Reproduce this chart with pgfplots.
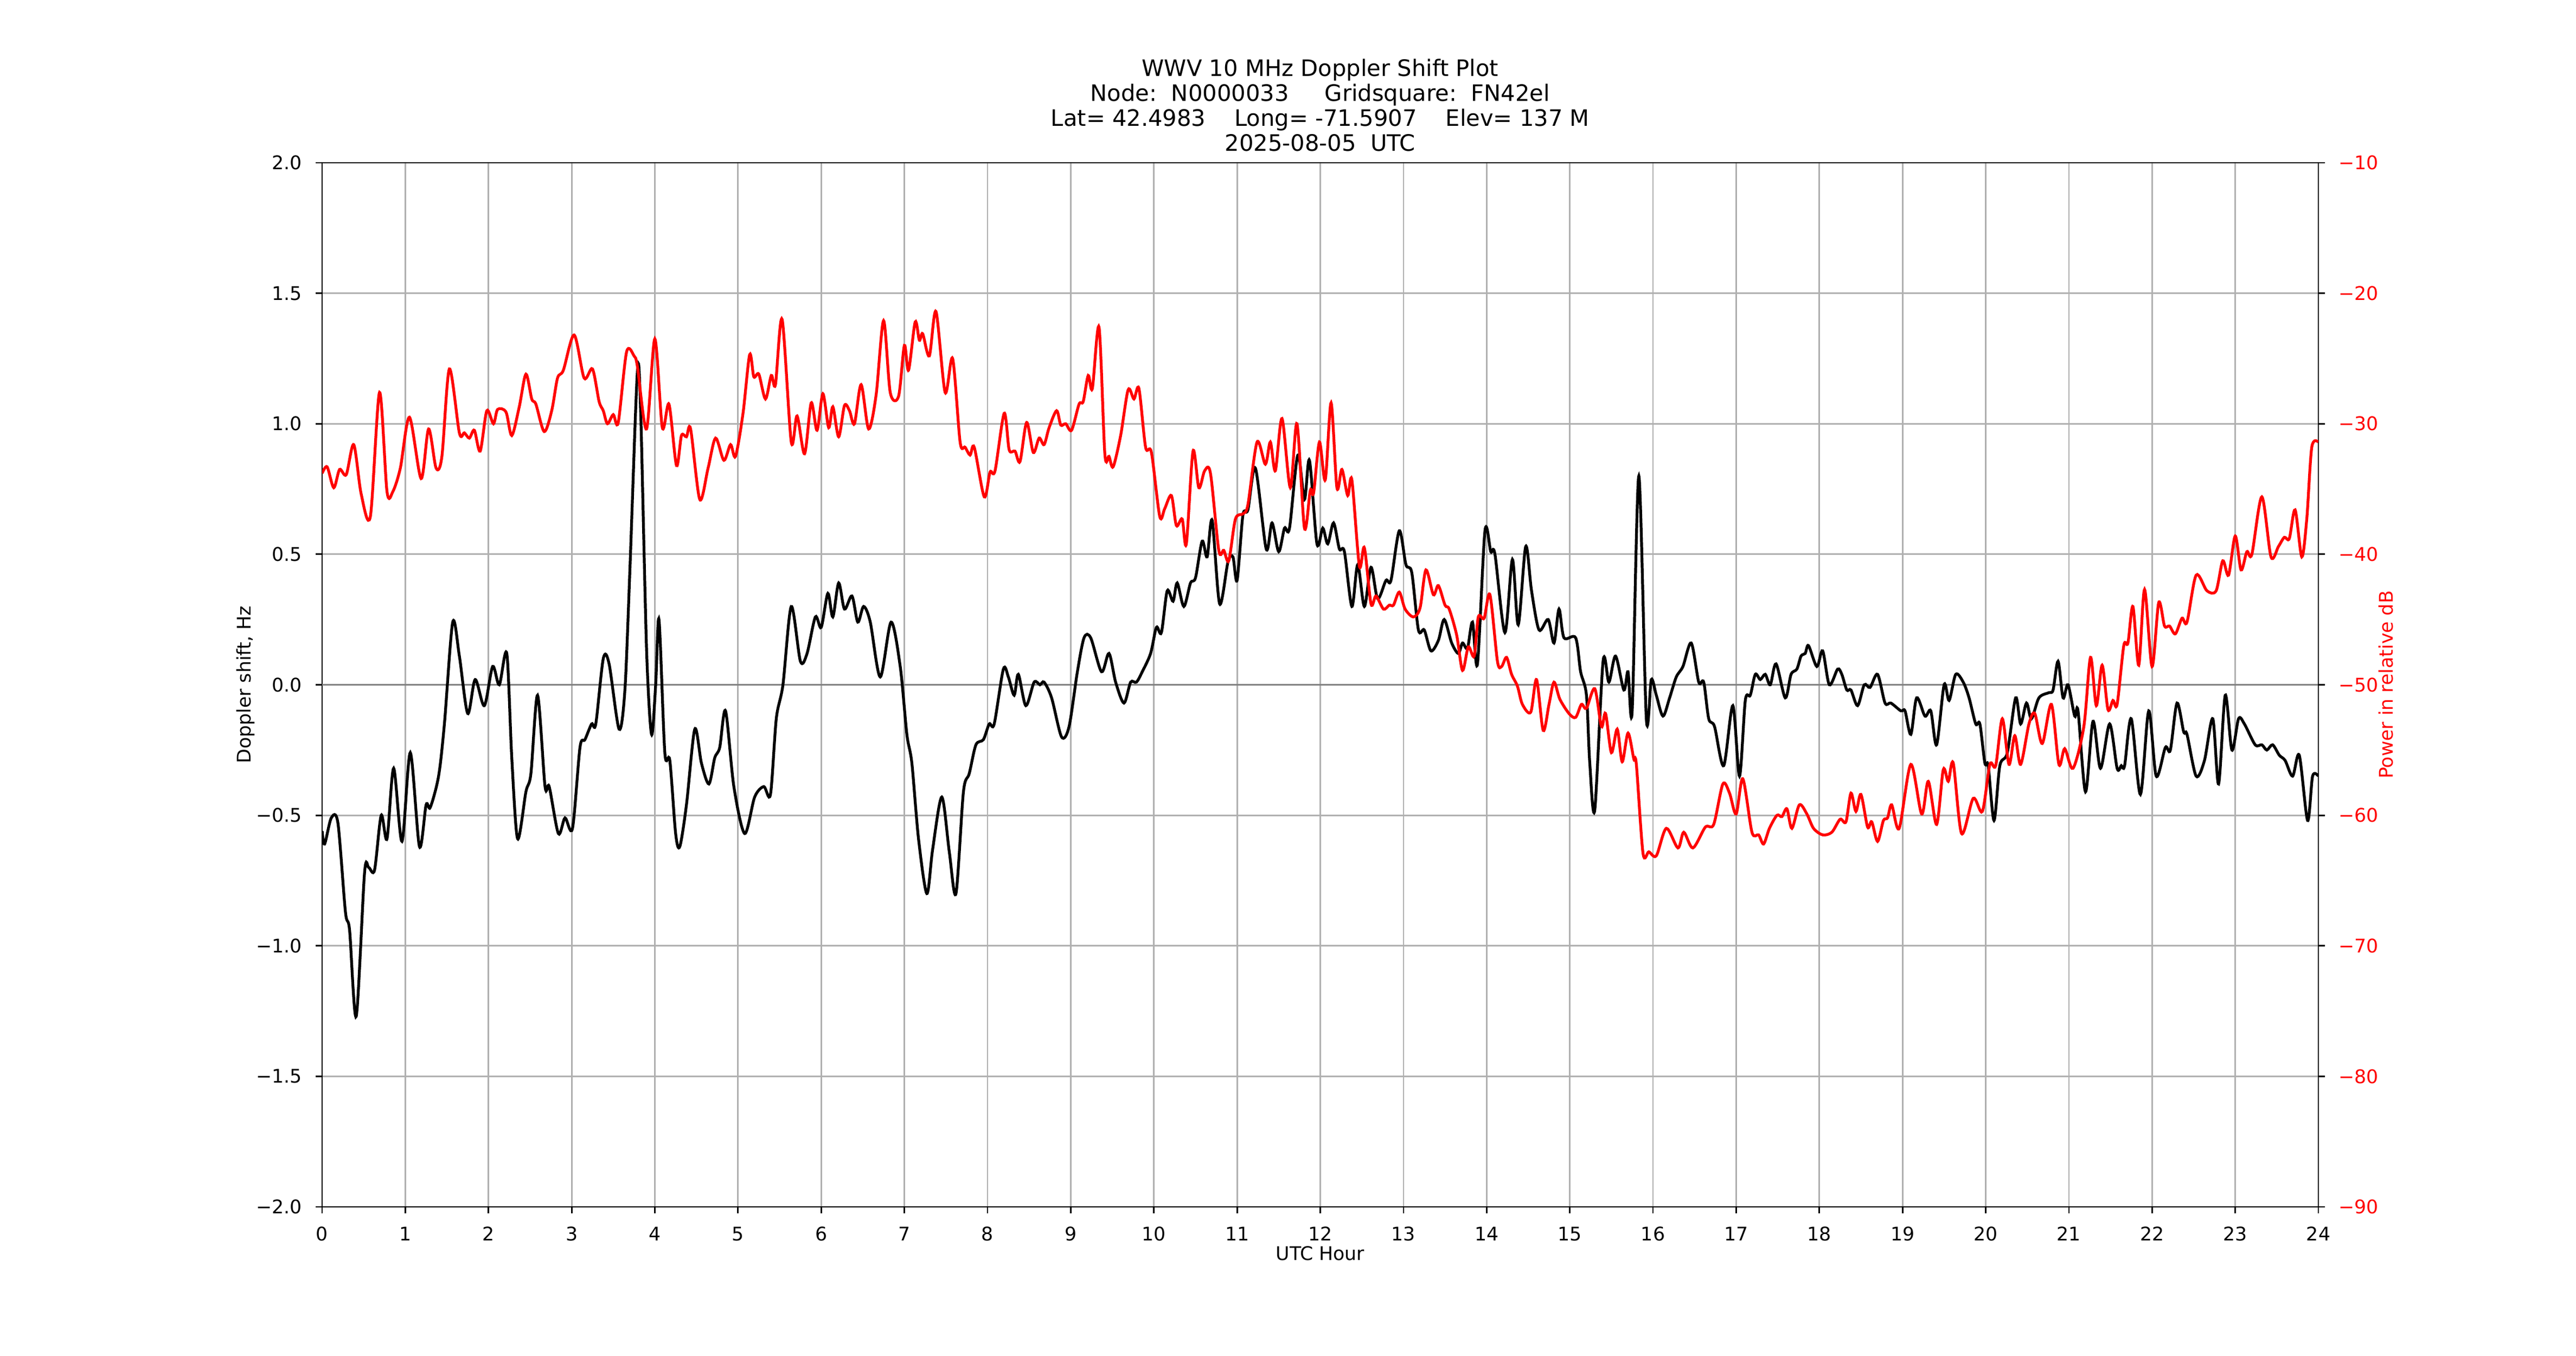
\documentclass[border=0pt]{standalone}
\usepackage{fontspec}
\setmainfont{DejaVu Sans}
\usepackage{pgfplots}
\pgfplotsset{compat=1.18}
\definecolor{gridgray}{RGB}{176,176,176}
\definecolor{zerogray}{RGB}{128,128,128}
\definecolor{mplred}{RGB}{255,0,0}
\newcommand{\tfont}{\fontsize{10bp}{12bp}\selectfont}
\begin{document}
\begin{tikzpicture}
\useasboundingbox (0,0) rectangle (1368bp,720bp);
\pgfplotsset{
  myaxis/.style={
    at={(171.07bp,79.2bp)}, anchor=south west,
    scale only axis, width=1060.13bp, height=554.4bp,
    xmin=0, xmax=24,
    tick align=outside,
    major tick length=3.5bp,
    every tick/.style={black, line width=0.8bp},
    axis line style={black, line width=0.8bp},
    ticklabel style={font=\tfont},
    /pgf/number format/assume math mode=true,
  }
}
\begin{axis}[
  myaxis,
  ymin=-2, ymax=2,
  xtick={0,1,...,24},
  ytick={-2,-1.5,-1,-0.5,0,0.5,1,1.5,2},
  yticklabels={−2.0,−1.5,−1.0,−0.5,0.0,0.5,1.0,1.5,2.0},
  xtick pos=left, ytick pos=left,
  grid=major,
  major grid style={gridgray, line width=0.8bp},
  xticklabel style={anchor=north, inner sep=0pt, yshift=-7bp},
  yticklabel style={anchor=east, inner sep=0pt, xshift=-7bp},
]
\addplot[zerogray, line width=0.8bp, forget plot] coordinates {(0,0) (24,0)};
\addplot[black, line width=1.5bp, smooth, tension=0.5] coordinates {
(0.00,-0.56)(0.03,-0.61)(0.11,-0.51)(0.19,-0.53)(0.28,-0.87)(0.33,-0.94)(0.41,-1.27)(0.51,-0.72)(0.56,-0.70)(0.63,-0.71)
(0.71,-0.50)(0.78,-0.59)(0.86,-0.32)(0.96,-0.60)(1.06,-0.26)(1.17,-0.62)(1.25,-0.46)(1.30,-0.47)(1.40,-0.35)(1.47,-0.15)
(1.57,0.24)(1.65,0.11)(1.75,-0.11)(1.84,0.02)(1.95,-0.08)(2.05,0.07)(2.13,0.00)(2.22,0.12)(2.28,-0.28)(2.35,-0.59)
(2.45,-0.41)(2.51,-0.34)(2.59,-0.04)(2.68,-0.39)(2.73,-0.39)(2.84,-0.57)(2.92,-0.51)(3.01,-0.55)(3.10,-0.24)(3.16,-0.21)
(3.24,-0.15)(3.29,-0.15)(3.38,0.10)(3.45,0.08)(3.57,-0.17)(3.64,-0.02)(3.70,0.44)(3.79,1.20)(3.83,1.04)(3.90,0.14)
(3.96,-0.19)(4.01,0.00)(4.05,0.25)(4.12,-0.26)(4.18,-0.29)(4.25,-0.57)(4.30,-0.62)(4.38,-0.46)(4.48,-0.17)(4.56,-0.30)
(4.65,-0.38)(4.72,-0.28)(4.78,-0.24)(4.85,-0.10)(4.95,-0.39)(5.08,-0.57)(5.20,-0.43)(5.31,-0.39)(5.39,-0.42)(5.46,-0.13)
(5.54,0.00)(5.64,0.30)(5.75,0.09)(5.83,0.12)(5.93,0.26)(6.00,0.22)(6.08,0.35)(6.14,0.26)(6.21,0.39)(6.28,0.29)
(6.37,0.34)(6.44,0.24)(6.51,0.30)(6.59,0.24)(6.71,0.03)(6.84,0.24)(6.95,0.07)(7.03,-0.19)(7.09,-0.30)(7.17,-0.59)
(7.27,-0.80)(7.34,-0.63)(7.45,-0.43)(7.54,-0.64)(7.62,-0.80)(7.71,-0.41)(7.78,-0.34)(7.86,-0.23)(7.95,-0.21)(8.02,-0.15)
(8.08,-0.15)(8.19,0.06)(8.25,0.03)(8.32,-0.04)(8.37,0.04)(8.46,-0.08)(8.56,0.01)(8.63,0.00)(8.68,0.01)(8.77,-0.05)
(8.89,-0.20)(8.98,-0.16)(9.08,0.05)(9.16,0.18)(9.24,0.18)(9.37,0.05)(9.46,0.12)(9.54,0.01)(9.64,-0.07)(9.72,0.01)
(9.79,0.01)(9.86,0.05)(9.96,0.12)(10.03,0.22)(10.09,0.20)(10.16,0.36)(10.23,0.32)(10.28,0.39)(10.36,0.30)(10.44,0.39)
(10.50,0.41)(10.58,0.55)(10.64,0.49)(10.70,0.63)(10.79,0.31)(10.89,0.47)(10.95,0.49)(11.00,0.40)(11.07,0.65)(11.13,0.67)
(11.22,0.83)(11.35,0.52)(11.42,0.62)(11.50,0.51)(11.57,0.60)(11.63,0.60)(11.73,0.88)(11.81,0.71)(11.87,0.86)(11.96,0.54)
(12.03,0.60)(12.09,0.54)(12.16,0.62)(12.23,0.52)(12.29,0.51)(12.38,0.30)(12.45,0.46)(12.53,0.30)(12.61,0.45)(12.69,0.33)
(12.79,0.40)(12.85,0.40)(12.95,0.59)(13.03,0.46)(13.10,0.43)(13.18,0.21)(13.25,0.21)(13.33,0.13)(13.42,0.17)(13.49,0.25)
(13.58,0.16)(13.66,0.12)(13.71,0.16)(13.77,0.14)(13.83,0.24)(13.89,0.08)(13.98,0.59)(14.05,0.51)(14.10,0.50)(14.22,0.20)
(14.31,0.48)(14.38,0.23)(14.47,0.53)(14.54,0.36)(14.63,0.21)(14.74,0.25)(14.81,0.16)(14.87,0.29)(14.93,0.18)(15.07,0.18)
(15.13,0.05)(15.20,-0.04)(15.24,-0.30)(15.30,-0.48)(15.40,0.09)(15.47,0.01)(15.55,0.11)(15.65,-0.02)(15.70,0.05)(15.75,-0.10)
(15.83,0.80)(15.92,-0.13)(15.98,0.02)(16.04,-0.04)(16.12,-0.12)(16.20,-0.05)(16.28,0.03)(16.36,0.07)(16.46,0.16)(16.55,0.01)
(16.61,0.01)(16.67,-0.13)(16.74,-0.16)(16.85,-0.31)(16.96,-0.08)(17.04,-0.35)(17.11,-0.06)(17.17,-0.04)(17.23,0.04)(17.29,0.02)
(17.35,0.04)(17.41,0.00)(17.48,0.08)(17.59,-0.05)(17.66,0.04)(17.73,0.06)(17.78,0.11)(17.83,0.12)(17.87,0.15)(17.97,0.07)
(18.04,0.13)(18.12,0.00)(18.22,0.06)(18.27,0.04)(18.33,-0.02)(18.38,-0.02)(18.46,-0.08)(18.54,0.00)(18.61,-0.01)(18.70,0.04)
(18.79,-0.07)(18.86,-0.07)(18.98,-0.10)(19.03,-0.10)(19.10,-0.19)(19.17,-0.05)(19.27,-0.12)(19.34,-0.10)(19.41,-0.23)(19.50,0.00)
(19.56,-0.06)(19.64,0.04)(19.73,0.01)(19.80,-0.05)(19.88,-0.15)(19.93,-0.15)(19.99,-0.30)(20.03,-0.31)(20.10,-0.52)(20.17,-0.31)
(20.26,-0.26)(20.36,-0.05)(20.42,-0.15)(20.49,-0.07)(20.55,-0.13)(20.64,-0.05)(20.76,-0.03)(20.81,-0.02)(20.87,0.09)(20.93,-0.05)
(20.99,0.00)(21.07,-0.12)(21.11,-0.10)(21.20,-0.41)(21.29,-0.14)(21.38,-0.32)(21.49,-0.15)(21.58,-0.32)(21.63,-0.31)(21.67,-0.31)
(21.75,-0.13)(21.86,-0.42)(21.96,-0.10)(22.05,-0.35)(22.16,-0.24)(22.22,-0.25)(22.30,-0.07)(22.38,-0.18)(22.42,-0.19)(22.53,-0.35)
(22.63,-0.29)(22.73,-0.13)(22.80,-0.38)(22.88,-0.04)(22.96,-0.25)(23.04,-0.13)(23.11,-0.15)(23.24,-0.23)(23.32,-0.23)(23.38,-0.25)
(23.45,-0.23)(23.53,-0.27)(23.60,-0.29)(23.69,-0.35)(23.77,-0.27)(23.87,-0.52)(23.93,-0.35)(24.00,-0.35)
};
\end{axis}
\begin{axis}[
  myaxis,
  ymin=-90, ymax=-10,
  axis x line=none,
  axis y line*=right,
  ytick={-90,-80,-70,-60,-50,-40,-30,-20,-10},
  yticklabels={−90,−80,−70,−60,−50,−40,−30,−20,−10},
  yticklabel style={anchor=west, inner sep=0pt, xshift=7bp, text=mplred},
]
\addplot[mplred, line width=1.5bp, smooth, tension=0.5] coordinates {
(0.00,-33.8)(0.06,-33.3)(0.14,-34.9)(0.21,-33.5)(0.29,-33.9)(0.38,-31.6)(0.47,-35.4)(0.58,-37.1)(0.69,-27.6)(0.78,-35.2)
(0.85,-35.2)(0.94,-33.4)(1.05,-29.5)(1.19,-34.2)(1.28,-30.4)(1.37,-33.4)(1.44,-32.5)(1.53,-25.8)(1.65,-30.7)(1.71,-30.7)
(1.77,-31.1)(1.83,-30.5)(1.90,-32.1)(1.98,-29.0)(2.06,-30.0)(2.11,-28.9)(2.21,-29.1)(2.28,-30.9)(2.37,-28.7)(2.45,-26.2)
(2.52,-28.1)(2.57,-28.5)(2.67,-30.6)(2.76,-29.0)(2.83,-26.5)(2.90,-25.9)(3.03,-23.2)(3.15,-26.5)(3.25,-25.8)(3.33,-28.3)
(3.38,-29.0)(3.43,-30.0)(3.50,-29.3)(3.56,-29.9)(3.66,-24.5)(3.75,-24.8)(3.79,-25.6)(3.90,-30.4)(4.00,-23.5)(4.09,-30.3)
(4.17,-28.5)(4.26,-33.2)(4.32,-30.9)(4.38,-31.0)(4.43,-30.4)(4.54,-35.8)(4.64,-33.4)(4.73,-31.1)(4.83,-32.8)(4.91,-31.6)
(4.97,-32.5)(5.06,-29.2)(5.14,-24.7)(5.19,-26.4)(5.25,-26.2)(5.33,-28.1)(5.40,-26.3)(5.45,-27.0)(5.53,-22.0)(5.64,-31.4)
(5.71,-29.4)(5.80,-32.3)(5.88,-28.4)(5.95,-30.5)(6.02,-27.7)(6.09,-30.3)(6.14,-28.7)(6.21,-31.0)(6.28,-28.6)(6.34,-29.0)
(6.40,-30.0)(6.48,-27.0)(6.57,-30.4)(6.66,-27.8)(6.75,-22.1)(6.83,-27.6)(6.93,-27.9)(7.00,-24.0)(7.05,-25.9)(7.13,-22.2)
(7.18,-23.6)(7.22,-23.1)(7.30,-24.8)(7.38,-21.4)(7.49,-27.6)(7.58,-25.0)(7.67,-31.4)(7.73,-31.8)(7.79,-32.4)(7.84,-31.8)
(7.96,-35.6)(8.03,-33.7)(8.09,-33.6)(8.20,-29.2)(8.26,-32.0)(8.33,-32.1)(8.39,-32.9)(8.47,-29.9)(8.55,-32.2)(8.62,-31.1)
(8.68,-31.6)(8.74,-30.3)(8.83,-29.0)(8.88,-30.1)(8.94,-30.0)(9.01,-30.5)(9.10,-28.5)(9.15,-28.3)(9.21,-26.3)(9.26,-27.3)
(9.34,-22.6)(9.41,-32.3)(9.46,-32.5)(9.51,-33.3)(9.60,-30.9)(9.69,-27.4)(9.76,-28.1)(9.82,-27.3)(9.90,-31.8)(9.97,-32.2)
(10.07,-37.1)(10.13,-36.5)(10.21,-35.5)(10.27,-37.8)(10.34,-37.3)(10.39,-39.2)(10.47,-32.1)(10.54,-34.9)(10.61,-33.6)(10.68,-33.8)
(10.78,-39.7)(10.84,-39.7)(10.90,-40.5)(10.98,-37.3)(11.07,-36.9)(11.13,-36.2)(11.24,-31.4)(11.34,-33.1)(11.40,-31.4)(11.46,-33.6)
(11.54,-29.6)(11.64,-34.9)(11.72,-30.0)(11.81,-38.0)(11.88,-35.1)(11.92,-35.3)(11.99,-31.4)(12.06,-34.3)(12.13,-28.4)(12.20,-34.9)
(12.26,-33.5)(12.33,-35.5)(12.38,-34.3)(12.47,-40.9)(12.53,-39.5)(12.61,-43.8)(12.67,-43.2)(12.76,-44.2)(12.83,-43.9)(12.88,-43.9)
(12.95,-42.9)(13.02,-44.2)(13.12,-44.8)(13.20,-44.1)(13.27,-41.2)(13.36,-43.1)(13.42,-42.4)(13.50,-43.9)(13.55,-44.2)(13.64,-46.2)
(13.71,-48.9)(13.78,-47.1)(13.85,-47.8)(13.90,-44.8)(13.97,-44.9)(14.04,-43.1)(14.13,-48.2)(14.18,-48.6)(14.24,-47.9)(14.30,-49.2)
(14.37,-50.1)(14.43,-51.5)(14.53,-52.1)(14.60,-49.6)(14.68,-53.5)(14.75,-51.5)(14.81,-49.8)(14.88,-51.1)(14.99,-52.2)(15.07,-52.5)
(15.14,-51.5)(15.20,-51.8)(15.30,-50.3)(15.38,-53.2)(15.43,-52.2)(15.50,-55.2)(15.57,-53.4)(15.63,-55.9)(15.70,-53.7)(15.77,-55.7)
(15.80,-56.1)(15.88,-62.9)(15.95,-62.8)(16.04,-63.1)(16.16,-61.0)(16.30,-62.5)(16.37,-61.3)(16.48,-62.5)(16.63,-60.9)(16.73,-60.7)
(16.84,-57.6)(16.92,-58.3)(17.00,-59.9)(17.08,-57.2)(17.19,-61.3)(17.27,-61.5)(17.33,-62.2)(17.40,-61.0)(17.49,-60.0)(17.55,-60.1)
(17.61,-59.5)(17.67,-61.0)(17.76,-59.2)(17.85,-59.9)(17.93,-61.0)(18.04,-61.5)(18.15,-61.3)(18.25,-60.3)(18.32,-60.5)(18.38,-58.3)
(18.44,-59.7)(18.50,-58.4)(18.58,-60.9)(18.63,-60.5)(18.70,-62.0)(18.77,-60.4)(18.82,-60.2)(18.87,-59.2)(18.96,-61.0)(19.10,-56.1)
(19.23,-59.9)(19.31,-57.4)(19.41,-60.7)(19.49,-56.5)(19.55,-57.4)(19.61,-56.0)(19.71,-61.4)(19.85,-58.7)(19.96,-59.7)(20.05,-56.1)
(20.12,-56.2)(20.20,-52.6)(20.28,-56.1)(20.35,-53.9)(20.42,-56.1)(20.52,-53.0)(20.59,-52.2)(20.68,-54.5)(20.79,-51.5)(20.88,-56.1)
(20.95,-54.9)(21.05,-56.4)(21.18,-53.2)(21.26,-47.9)(21.33,-51.6)(21.40,-48.5)(21.47,-51.9)(21.53,-51.2)(21.58,-51.5)(21.66,-47.0)
(21.71,-46.8)(21.77,-44.0)(21.84,-48.5)(21.91,-42.7)(22.00,-48.6)(22.08,-43.7)(22.15,-45.5)(22.21,-45.5)(22.28,-46.1)(22.36,-44.9)
(22.42,-45.2)(22.53,-41.6)(22.66,-42.8)(22.77,-42.8)(22.85,-40.5)(22.92,-41.6)(23.00,-38.6)(23.07,-41.2)(23.14,-39.8)(23.20,-40.0)
(23.32,-35.6)(23.43,-40.2)(23.52,-39.4)(23.59,-38.7)(23.65,-38.8)(23.72,-36.6)(23.80,-40.2)(23.86,-37.3)(23.92,-31.8)(24.00,-31.4)
};
\end{axis}
\begin{scope}[every node/.style={inner sep=0pt, font=\fontsize{12bp}{14bp}\selectfont}]
\node[anchor=base] at (701.1bp,679.4bp) {WWV 10 MHz Doppler Shift Plot};
\node[anchor=base] at (701.1bp,666.2bp) {Node:\ \ N0000033\ \ \ \ \ Gridsquare:\ \ FN42el};
\node[anchor=base] at (701.1bp,653.0bp) {Lat= 42.4983\ \ \ \ Long= -71.5907\ \ \ \ Elev= 137 M};
\node[anchor=base] at (701.1bp,639.8bp) {2025-08-05\ \ UTC};
\end{scope}
\node[anchor=base, inner sep=0pt, font=\tfont] at (701.1bp,50.7bp) {UTC Hour};
\node[anchor=base, inner sep=0pt, rotate=90, font=\tfont] at (133.3bp,356.4bp) {Doppler shift, Hz};
\node[anchor=base, inner sep=0pt, rotate=90, font=\tfont, text=mplred] at (1270.7bp,356.4bp) {Power in relative dB};
\end{tikzpicture}
\end{document}
